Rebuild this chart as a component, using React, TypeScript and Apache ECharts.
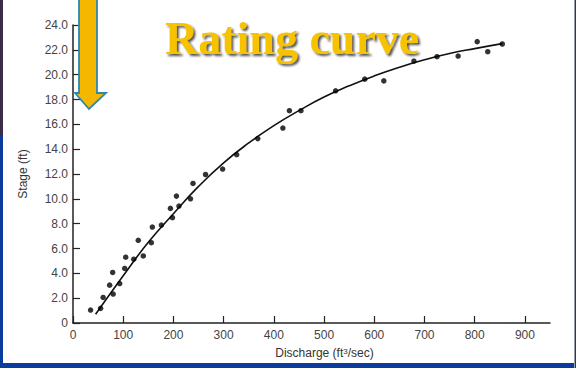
import React, { useEffect, useRef } from "react";
import * as echarts from "echarts";

const dischargeObs = [35, 55, 60, 80, 73, 93, 79, 103, 105, 121, 140, 130, 156, 158, 176, 198, 194, 211, 206, 234, 239, 264, 298, 326, 368, 418, 431, 454, 523, 581, 619, 679, 725, 767, 805, 826, 855];
const stageObs = [1.04, 1.18, 2.06, 2.33, 3.05, 3.18, 4.07, 4.39, 5.3, 5.14, 5.4, 6.66, 6.47, 7.73, 7.89, 8.48, 9.23, 9.42, 10.22, 10.0, 11.24, 11.96, 12.4, 13.56, 14.85, 15.7, 17.1, 17.1, 18.7, 19.64, 19.5, 21.1, 21.45, 21.5, 22.66, 21.85, 22.47];
const curveQ = [45, 100, 150, 200, 250, 300, 350, 400, 450, 500, 550, 600, 650, 700, 750, 800, 855];
const curveStage = [0.7, 3.8, 6.5, 8.8, 11.0, 12.9, 14.5, 15.9, 17.1, 18.2, 19.1, 19.9, 20.6, 21.2, 21.7, 22.1, 22.5];
const xTicks = [0, 100, 200, 300, 400, 500, 600, 700, 800, 900];
const yTicks = [0, 2, 4, 6, 8, 10, 12, 14, 16, 18, 20, 22, 24];
const titleText = "Rating curve";
const xName = "Discharge (ft{sup|3}/sec)";
const yName = "Stage (ft)";

export default function App() {
  const ref = useRef<HTMLDivElement>(null);
  useEffect(() => {
    const chart = echarts.init(ref.current!, null, { renderer: "svg" });
    const blue = "#0b3c9c";
    chart.setOption({
      animation: false,
      backgroundColor: "#ffffff",
      grid: { left: 73, top: 25, width: 477, height: 299 },
      xAxis: {
        type: "value",
        min: 0,
        max: 950,
        interval: 100,
        splitLine: { show: false },
        axisLine: { lineStyle: { color: "#222", width: 1.5 } },
        axisTick: { inside: true, length: 7, customValues: xTicks, lineStyle: { color: "#222", width: 1.2 } },
        axisLabel: {
          customValues: xTicks,
          color: "#444",
          fontFamily: "Liberation Sans, Arial, sans-serif",
          fontSize: 12,
          margin: 6,
          formatter: (v: number) => String(v),
        },
        name: xName,
        nameLocation: "middle",
        nameGap: 24,
        nameTextStyle: {
          color: "#333",
          fontFamily: "Liberation Sans, Arial, sans-serif",
          fontSize: 12,
          padding: [0, 0, 0, 26],
          rich: { sup: { fontSize: 8, verticalAlign: "top", lineHeight: 8, padding: [0, 0, 8, 0], color: "#333" } },
        },
      },
      yAxis: {
        type: "value",
        min: 0,
        max: 24,
        interval: 2,
        splitLine: { show: false },
        axisLine: { show: true, lineStyle: { color: "#222", width: 1.5 } },
        axisTick: { show: true, inside: true, length: 7, customValues: yTicks, lineStyle: { color: "#222", width: 1.2 } },
        axisLabel: {
          customValues: yTicks,
          color: "#444",
          fontFamily: "Liberation Sans, Arial, sans-serif",
          fontSize: 12,
          margin: 5,
          formatter: (v: number) => (v === 0 ? "0" : v.toFixed(1)),
        },
        name: yName,
        nameLocation: "middle",
        nameGap: 44,
        nameTextStyle: { color: "#333", fontFamily: "Liberation Sans, Arial, sans-serif", fontSize: 12 },
      },
      series: [
        {
          type: "line",
          data: curveQ.map((q, i) => [q, curveStage[i]]),
          smooth: true,
          showSymbol: false,
          lineStyle: { color: "#111", width: 1.6 },
          z: 2,
        },
        {
          type: "scatter",
          data: dischargeObs.map((q, i) => [q, stageObs[i]]),
          symbolSize: 5.5,
          itemStyle: { color: "#000" },
          z: 3,
        },
      ],
      graphic: [
        { type: "rect", shape: { x: 0, y: 0, width: 3, height: 368 }, style: { fill: blue }, z: 10 },
        { type: "rect", shape: { x: 0, y: 0, width: 3, height: 135 }, style: { fill: "#3a2c48" }, z: 10 },
        { type: "rect", shape: { x: 0, y: 363, width: 576, height: 5 }, style: { fill: blue }, z: 10 },
        { type: "rect", shape: { x: 574, y: 0, width: 2, height: 368 }, style: { fill: "#9aa0b0" }, z: 10 },
        { type: "rect", shape: { x: 575, y: 0, width: 1, height: 368 }, style: { fill: blue }, z: 10 },
        {
          type: "polygon",
          shape: { points: [[79, -3], [97, -3], [97, 93], [106, 93], [89, 109], [75, 93], [79, 93]] },
          style: { fill: "#f6b700", stroke: "#2b88b3", lineWidth: 1.8 },
          z: 20,
        },
        {
          type: "text",
          x: 165,
          y: 15,
          style: {
            text: titleText,
            fill: "#f7c200",
            font: "bold 46px 'Liberation Serif', 'Times New Roman', serif",
            textAlign: "left",
            textVerticalAlign: "top",
            textShadowColor: "rgba(40,40,40,0.8)",
            textShadowOffsetX: 2,
            textShadowOffsetY: 2,
            textShadowBlur: 2,
          },
          z: 20,
        },
      ],
    });
    return () => chart.dispose();
  }, []);
  return <div ref={ref} style={{ position: "absolute", left: 0, top: 0, width: 576, height: 368 }} />;
}
